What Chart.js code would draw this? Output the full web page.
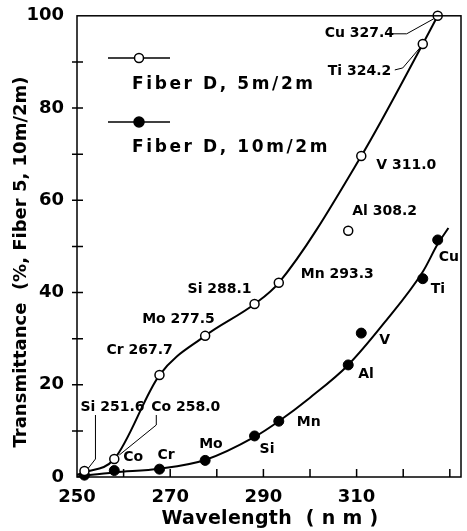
<!DOCTYPE html>
<html>
<head>
<meta charset="utf-8">
<script src="https://cdn.jsdelivr.net/npm/chart.js@4"></script>
<style>
    html, body { margin: 0; padding: 0; background: #fff; }
    #wrap { width: 467px; height: 531px; }
</style>
</head>
<body>
<div id="wrap"><canvas id="Chart"></canvas></div>
<script>
// measured lines (nm) and transmittance (%)
var elements = ['Si', 'Co', 'Cr', 'Mo', 'Si', 'Mn', 'Al', 'V', 'Ti', 'Cu'];
var wavelengths = [251.6, 258.0, 267.7, 277.5, 288.1, 293.3, 308.2, 311.0, 324.2, 327.4];
var fiber5m = [1.3, 3.9, 22.1, 30.6, 37.5, 42.1, 53.4, 69.6, 93.9, 100];
var fiber10m = [0.4, 1.4, 1.7, 3.6, 8.9, 12.1, 24.3, 31.2, 43.0, 51.4];

// hand drawn curves through the points
var curve5mX = [250, 251.6, 258, 267.7, 277.5, 288.1, 293.3, 311, 324.2, 327.4];
var curve5mY = [0.5, 1.0, 3.9, 22.1, 30.6, 37.5, 42.1, 69.6, 93.9, 100];
var curve10mX = [250, 258, 267.7, 277.5, 288.1, 293.3, 300, 308.2, 316, 324.2, 327.4, 329.7];
var curve10mY = [0.1, 1.0, 1.8, 3.7, 8.7, 12.1, 17.2, 24.3, 33.5, 44.5, 50.5, 54.0];

var xTickLabels = [250, 270, 290, 310, 330];
var yTickLabels = [0, 20, 40, 60, 80, 100];

var legendLabels = ['Fiber D, 5m/2m', 'Fiber D, 10m/2m'];

// label offsets from each point, in px
var openOffsets = [[-4, -64], [37, -52], [-53, -25], [-63, -17], [-67, -15], [22, -8], [4, -19], [15, 9], [-95, 27], [-113, 18]];
var filledOffsets = [null, [9, -13], [-2, -14], [-6, -16], [5, 13], [18, 1], [10, 9], [18, 7], [8, 11], [1, 17]];
var leaders = {
    0: [[11, -56], [11, -12], [4, -3]],
    1: [[42, -44], [42, -34], [5, -4]],
    8: [[-28, 26], [-20, 24], [-3, 4]],
    9: [[-48, 18], [-31, 18], [-4, 3]]
};

var FONT = '"DejaVu Sans", sans-serif';

function pts(xs, ys) {
    return xs.map(function (x, i) { return { x: x, y: ys[i] }; });
}

var annotate = {
    id: 'annotate',
    afterDatasetsDraw: function (chart) {
        var ctx = chart.ctx, a = chart.chartArea;
        var xs = chart.scales.x, ys = chart.scales.y;
        ctx.save();
        ctx.strokeStyle = '#000';
        ctx.fillStyle = '#000';

        // frame + ticks
        ctx.lineWidth = 1.5;
        ctx.strokeRect(a.left, a.top, a.right - a.left, a.bottom - a.top);
        ctx.beginPath();
        for (var v = 260; v <= 330; v += 10) {
            var px = xs.getPixelForValue(v);
            ctx.moveTo(px, a.bottom);
            ctx.lineTo(px, a.bottom - 8);
        }
        for (var w = 10; w < 100; w += 10) {
            var py = ys.getPixelForValue(w);
            ctx.moveTo(a.left - 5, py);
            ctx.lineTo(a.left + 6, py);
        }
        ctx.stroke();

        // point labels
        ctx.font = 'bold 14px ' + FONT;
        ctx.textBaseline = 'middle';
        ctx.textAlign = 'left';
        ctx.lineWidth = 1;
        wavelengths.forEach(function (wl, i) {
            var px = xs.getPixelForValue(wl);
            var py = ys.getPixelForValue(fiber5m[i]);
            var o = openOffsets[i];
            ctx.fillText(elements[i] + ' ' + wl.toFixed(1), px + o[0], py + o[1]);
            if (leaders[i]) {
                ctx.beginPath();
                leaders[i].forEach(function (p, k) {
                    if (k === 0) ctx.moveTo(px + p[0], py + p[1]);
                    else ctx.lineTo(px + p[0], py + p[1]);
                });
                ctx.stroke();
            }
            var f = filledOffsets[i];
            if (f) {
                var qy = ys.getPixelForValue(fiber10m[i]);
                ctx.fillText(elements[i], px + f[0], qy + f[1]);
            }
        });

        // legend
        ctx.lineWidth = 1.5;
        ctx.font = 'bold 17px ' + FONT;
        ctx.letterSpacing = '2.6px';
        [[58, 85, false], [122, 148, true]].forEach(function (r, i) {
            ctx.beginPath();
            ctx.moveTo(108, r[0]);
            ctx.lineTo(170, r[0]);
            ctx.stroke();
            ctx.beginPath();
            ctx.arc(139, r[0], r[2] ? 5 : 4.5, 0, Math.PI * 2);
            ctx.fillStyle = r[2] ? '#000' : '#fff';
            ctx.fill();
            ctx.stroke();
            ctx.fillStyle = '#000';
            ctx.fillText(legendLabels[i], 132, r[1]);
        });

        // axis titles
        ctx.font = 'bold 19px ' + FONT;
        ctx.letterSpacing = '0.3px';
        ctx.textAlign = 'center';
        ctx.fillText('Wavelength  ( n m )', 270, 519);
        ctx.letterSpacing = '0px';
        ctx.font = 'bold 18px ' + FONT;
        ctx.translate(21, 262);
        ctx.rotate(-Math.PI / 2);
        ctx.fillText('Transmittance  (%, Fiber 5, 10m/2m)', 0, 0);
        ctx.restore();
    }
};

new Chart(document.getElementById('Chart').getContext('2d'), {
    type: 'line',
    data: {
        datasets: [
            {
                label: 'Fiber D, 5m/2m',
                data: pts(wavelengths, fiber5m),
                showLine: false,
                pointRadius: 4.5,
                pointBackgroundColor: '#fff',
                pointBorderColor: '#000',
                pointBorderWidth: 1.5,
                clip: false,
                order: 0
            },
            {
                label: 'Fiber D, 10m/2m',
                data: pts(wavelengths, fiber10m),
                showLine: false,
                pointRadius: 5,
                pointBackgroundColor: '#000',
                pointBorderColor: '#000',
                pointBorderWidth: 1,
                clip: false,
                order: 0
            },
            {
                data: pts(curve5mX, curve5mY),
                borderColor: '#000',
                borderWidth: 2,
                pointRadius: 0,
                cubicInterpolationMode: 'monotone',
                clip: false,
                order: 1
            },
            {
                data: pts(curve10mX, curve10mY),
                borderColor: '#000',
                borderWidth: 2,
                pointRadius: 0,
                cubicInterpolationMode: 'monotone',
                clip: false,
                order: 1
            }
        ]
    },
    options: {
        responsive: true,
        maintainAspectRatio: false,
        animation: false,
        layout: { padding: { left: 0, right: 4, top: 14, bottom: 0 } },
        plugins: {
            legend: { display: false },
            tooltip: { enabled: false }
        },
        scales: {
            x: {
                type: 'linear',
                min: 250,
                max: 332.4,
                grid: { display: false },
                border: { display: false },
                afterFit: function (s) { s.height = 54; },
                ticks: {
                    stepSize: 10,
                    padding: 2,
                    autoSkip: false,
                    maxRotation: 0,
                    color: '#000',
                    font: { family: FONT, size: 18, weight: 'bold' },
                    callback: function (value) {
                        return xTickLabels.indexOf(value) >= 0 ? String(value) : '';
                    }
                }
            },
            y: {
                min: 0,
                max: 100,
                grid: { display: false },
                border: { display: false },
                afterFit: function (s) { s.width = 77; },
                ticks: {
                    stepSize: 10,
                    padding: 5,
                    autoSkip: false,
                    color: '#000',
                    font: { family: FONT, size: 18, weight: 'bold' },
                    callback: function (value) {
                        return yTickLabels.indexOf(value) >= 0 ? String(value) : '';
                    }
                }
            }
        }
    },
    plugins: [annotate]
});
</script>
</body>
</html>
